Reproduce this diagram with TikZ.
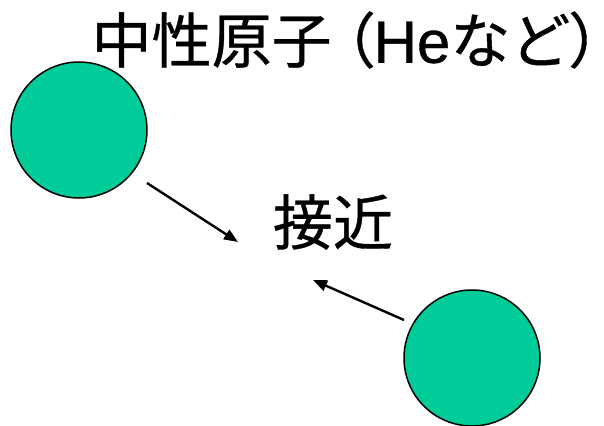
\documentclass[tikz,border=0pt]{standalone}
\usepackage{fontspec}
\newfontfamily\cjk[FakeBold=0.6]{Noto Sans CJK JP}
\newfontfamily\cjkp[RawFeature=+palt,FakeBold=0.6]{Noto Sans CJK JP}
\newfontfamily\arial[FakeBold=0.6]{Liberation Sans}
\usetikzlibrary{arrows.meta}
\definecolor{atomgreen}{RGB}{0,204,153}
\tikzset{
  atom/.style={circle, draw=black, line width=1.5pt, fill=atomgreen, minimum size=136pt, inner sep=0pt},
  label/.style={inner sep=0pt, font=\fontsize{60pt}{60pt}\selectfont\cjk},
  motion/.style={line width=2.4pt, -{Triangle[length=14pt,width=11pt]}}
}
\begin{document}
\begin{tikzpicture}[x=1pt,y=-1pt]
\useasboundingbox (0,0) rectangle (604,425);
\node[atom] (a1) at (79,130) {};
\node[atom] (a2) at (472,358) {};
\node[label] (title) at (346,40) {中性原子\hspace{12pt}{\cjkp （}{\arial He}など{\cjkp ）}};
\node[label] (near) at (333,222) {接近};
\coordinate (s1) at (147,183);
\coordinate (e1) at (238,242);
\coordinate (s2) at (404,320);
\coordinate (e2) at (313,280);
\draw[motion] (s1) -- (e1);
\draw[motion] (s2) -- (e2);
\end{tikzpicture}
\end{document}
